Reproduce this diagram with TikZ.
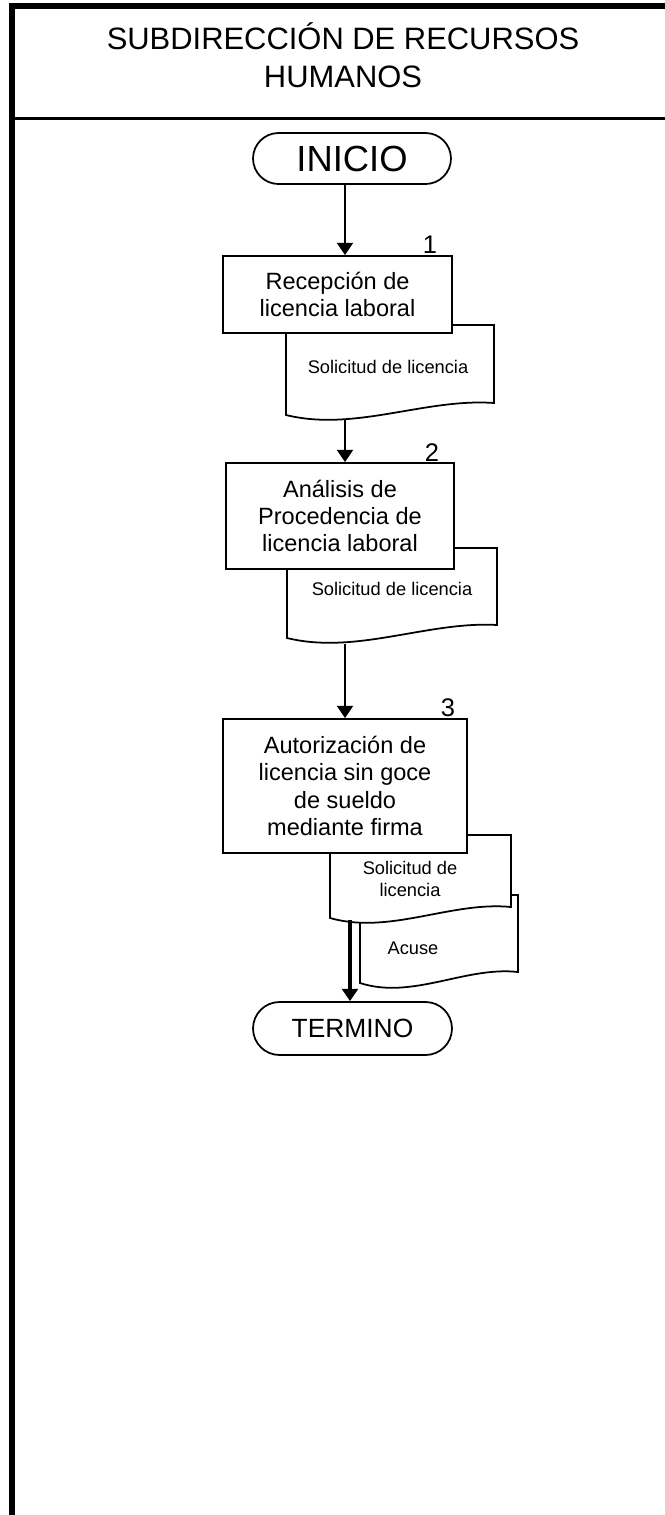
\documentclass[tikz,border=0pt]{standalone}
\usepackage{fontspec}
\setmainfont{Liberation Sans}
\usetikzlibrary{positioning,arrows.meta,calc,shapes.misc}
\tikzset{
  term/.style={rounded rectangle, draw=black, line width=1pt, fill=white, inner sep=0pt,
               font=\fontsize{20.7}{24}\selectfont},
  termsm/.style={term, font=\fontsize{15}{18}\selectfont},
  proc/.style={rectangle, draw=black, line width=1pt, fill=white, align=center, inner sep=0pt,
               font=\fontsize{13.4}{15.6}\selectfont},
  doctxt/.style={align=center, inner sep=0pt, font=\fontsize{10.4}{12.5}\selectfont},
  num/.style={anchor=base, inner sep=0pt, font=\fontsize{14.5}{16}\selectfont},
  flowarr/.style={-{Triangle[length=7pt,width=9pt]}, line width=1.5pt},
}
% document sheet: x1, ytop, x2, ybottom (left), rise of the right corner
\newcommand{\docpaper}[5]{%
  \draw[line width=1pt, fill=white] (#1,#2) -- (#3,#2) -- (#3,{#4-#5})
    .. controls ({#3-0.33*(#3-#1)},{#4-17}) and ({#1+0.33*(#3-#1)},{#4+17}) .. (#1,#4) -- cycle;
}

\begin{document}
\begin{tikzpicture}[x=0.02cm, y=-0.02cm]
  \useasboundingbox (0,0) rectangle (665,1515);
  % frame and header
  \draw[line width=3.4pt] (12,1515) -- (12,6) -- (665,6);
  \draw[line width=1.7pt] (12,118.5) -- (665,118.5);
  \node[align=center, inner sep=0pt, font=\fontsize{17.6}{21.5}\selectfont] (title) at (343,55)
    {SUBDIRECCIÓN DE RECURSOS\\HUMANOS};

  % documents (behind the activity boxes)
  \docpaper{286}{325}{494}{415}{12}
  \node[doctxt] (d1) at (388,367) {Solicitud de licencia};
  \docpaper{287}{548}{497}{638}{13}
  \node[doctxt] (d2) at (392,589) {Solicitud de licencia};
  \docpaper{360}{895}{518}{983}{11}
  \node[doctxt] (d3b) at (413,948) {Acuse};
  \docpaper{330}{835}{511}{918}{11}
  \node[doctxt] (d3a) at (410,879) {Solicitud de\\licencia};

  % terminators and activities
  \node[term, minimum width=3.96cm, minimum height=1.02cm] (ini) at (352,158.5) {INICIO};
  \node[proc, minimum width=4.58cm, minimum height=1.54cm] (p1) at (337.5,294.5)
    {Recepción de\\licencia laboral};
  \node[proc, minimum width=4.56cm, minimum height=2.12cm] (p2) at (340,516)
    {Análisis de\\Procedencia de\\licencia laboral};
  \node[proc, minimum width=4.88cm, minimum height=2.68cm] (p3) at (345,786)
    {Autorización de\\licencia sin goce\\de sueldo\\mediante firma};
  \node[termsm, minimum width=3.98cm, minimum height=1.06cm] (fin) at (352.5,1028.5) {TERMINO};

  % step numbers
  \node[num] (n1) at (430,253) {1};
  \node[num] (n2) at (432,461) {2};
  \node[num] (n3) at (448,716) {3};

  % flow
  \coordinate (a0) at ($(ini.south)+(-7,0)$);
  \coordinate (a1) at (345,420);
  \coordinate (a2) at (345,644);
  \coordinate (a3) at (350,920);
  \draw[flowarr] (a0) -- (a0 |- p1.north);
  \draw[flowarr] (a1) -- (a1 |- p2.north);
  \draw[flowarr] (a2) -- (a2 |- p3.north);
  \draw[flowarr, line width=2.8pt] (a3) -- (a3 |- fin.north);
\end{tikzpicture}
\end{document}
